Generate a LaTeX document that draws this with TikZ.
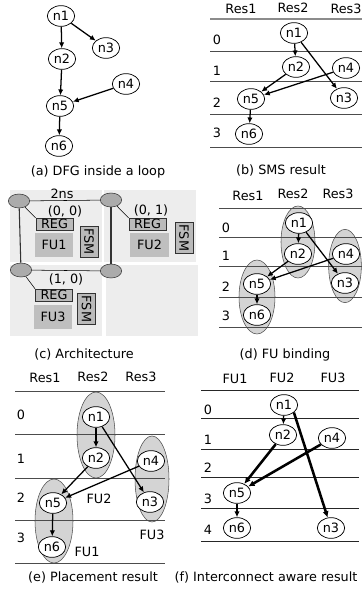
\documentclass[tikz,border=0pt]{standalone}
\usepackage{fontspec}
\setmainfont{DejaVu Sans}
\usepackage{xcolor}
\usepackage{tikz}
\usetikzlibrary{arrows.meta,shapes.geometric}

\begin{document}
\begin{tikzpicture}[
    x=0.75pt, y=-0.75pt,
    font=\fontsize{9.6}{11}\selectfont,
    opnode/.style={draw, ellipse, fill=white, inner sep=0pt, minimum width=20.5pt, minimum height=15.5pt, line width=0.55pt},
    fugroup/.style={draw=black!70, ellipse, fill=black!17, inner sep=0pt},
    pe/.style={draw=black!80, ellipse, fill=black!33, inner sep=0pt, minimum width=16pt, minimum height=10.5pt},
    regbox/.style={draw=black!80, fill=black!27, inner sep=0pt, minimum width=28pt, minimum height=8.8pt, text height=6.6pt, text depth=0pt},
    fubox/.style={fill=black!25, inner sep=0pt, minimum width=29pt, minimum height=18pt},
    fsmbox/.style={draw=black!80, fill=black!27, inner sep=0pt, minimum width=13.5pt, minimum height=23pt},
    panel/.style={fill=black!7},
    arr/.style={-{Latex[length=4.4pt,width=4pt]}, line width=0.95pt},
    wire/.style={-{Latex[length=4.8pt,width=4.6pt]}, line width=1.9pt},
    grid/.style={draw=black!70, line width=0.5pt},
  ]
  \useasboundingbox (0,0) rectangle (362,589);

  % Panels of the architecture
  \fill[panel] (10,190) rectangle (102,262);
  \fill[panel] (104,190) rectangle (196,262);
  \fill[panel] (10,265) rectangle (102,336);
  \fill[panel] (106,265) rectangle (198,336);

  % FU groups in (d) and (e), under the grid lines
  \node[fugroup, minimum width=25.5pt, minimum height=54pt]   (dg2) at (298,242) {};
  \node[fugroup, minimum width=24.5pt, minimum height=55pt]   (dg3) at (345,266) {};
  \node[fugroup, minimum width=27pt, minimum height=55.5pt]   (dg1) at (257,297) {};
  \node[fugroup, minimum width=28.5pt, minimum height=64.5pt] (eg2) at (96,435) {};
  \node[fugroup, minimum width=25.5pt, minimum height=64.5pt] (eg3) at (152,479) {};
  \node[fugroup, minimum width=28.5pt, minimum height=63pt]   (eg1) at (54,521) {};

  % Grid lines
  \draw[black!45, line width=1.2pt] (210,19) -- (362,19);
  \foreach \y in {51,81,114,147} \draw[grid] (210,\y) -- (362,\y);
  \foreach \y in {208,237,266,297,327} \draw[grid] (219,\y) -- (362,\y);
  \foreach \y in {391,434,478,520,563} \draw[grid] (15,\y) -- (165,\y);
  \foreach \y in {390,418,449,477,508,541} \draw[black!85, line width=0.6pt] (201,\y) -- (359,\y);

  % Column headers and row numbers
  \foreach \id/\lab/\x/\y in {bc1/Res1/241/9, bc2/Res2/293/8, bc3/Res3/346/9,
      dc1/Res1/248/196, dc2/Res2/293/194, dc3/Res3/338/194,
      ec1/Res1/45/378, ec2/Res2/93/377, ec3/Res3/141/377,
      fc1/FU1/235/379, fc2/FU2/282/378, fc3/FU3/333/378,
      br0/0/217/40, br1/1/217/71, br2/2/217/103, br3/3/217/133,
      dr0/0/226/228, dr1/1/226/256, dr2/2/226/287, dr3/3/226/316,
      er0/0/21/415, er1/1/21/459, er2/2/21/498, er3/3/21/538,
      fr0/0/208/410, fr1/1/208/440, fr2/2/208/468, fr3/3/208/499, fr4/4/208/530}
    \node[inner sep=0pt] (\id) at (\x,\y) {\lab};

  % Operation nodes
  \foreach \id/\lab/\x/\y in {a1/n1/61/16, a2/n2/62/59, a3/n3/106/48, a4/n4/126/84, a5/n5/60/106, a6/n6/59/146,
      b1/n1/294/33, b2/n2/296/67, b3/n3/344/98, b4/n4/346/68, b5/n5/251/99, b6/n6/249/134,
      d1/n1/299/223, d2/n2/298/254, d3/n3/345/283, d4/n4/346/254, d5/n5/257/284, d6/n6/257/315,
      e1/n1/96/417, e2/n2/96/458, e3/n3/150/502, e4/n4/151/461, e5/n5/53/503, e6/n6/52/547,
      f1/n1/284/405, f2/n2/283/435, f3/n3/331/528, f4/n4/332/438, f5/n5/237/493, f6/n6/237/528}
    \node[opnode] (\id) at (\x,\y) {\lab};

  % Dependence edges
  \foreach \s/\t in {a1/a2, a1/a3, a2/a5, a4/a5, a5/a6,
      b1/b2, b1/b3, b2/b5, b4/b5, b5/b6,
      d1/d2, d1/d3, d2/d5, d4/d5, d5/d6,
      e1/e2, e1/e3, e2/e5, e4/e5, e5/e6,
      f1/f2, f5/f6}
    \draw[arr] (\s) -- (\t);
  \draw[wire] (f1.south east) -- (f3);
  \foreach \s/\t in {f2/f5, f4/f5}
    \draw[wire] (\s) -- (\t);

  % Architecture
  \node[pe] (pe1) at (19,201) {};
  \node[pe] (pe2) at (111,200) {};
  \node[pe] (pe3) at (21,270) {};
  \node[pe] (pe4) at (111,271) {};
  \node[regbox] (reg1) at (54.5,224) {REG};
  \node[regbox] (reg2) at (147.5,224) {REG};
  \node[regbox] (reg3) at (54,295) {REG};
  \node[fubox] (fu1) at (54,245) {FU1};
  \node[fubox] (fu2) at (149.5,245) {FU2};
  \node[fubox] (fu3) at (53,316.5) {FU3};
  \node[fsmbox] (fsm1) at (89,241.5) {\rotatebox{-90}{FSM}};
  \node[fsmbox] (fsm2) at (184,238) {\rotatebox{-90}{FSM}};
  \node[fsmbox] (fsm3) at (86.5,309) {\rotatebox{-90}{FSM}};
  \draw (pe1) -- (pe2);
  \draw (pe3) -- (pe4);
  \draw[line width=0.8pt, black!80] (pe1) -- (pe3);
  \draw[line width=0.8pt, black!80] (pe2) -- (pe4);
  \draw (pe1) -- (reg1.north west);
  \draw (pe2) -- (reg2.north west);
  \draw (pe3) -- (reg3.north west);
  \node[inner sep=0pt] (delay) at (62,194) {2ns};
  \node[inner sep=0pt] (xy1) at (65,211) {(0, 0)};
  \node[inner sep=0pt] (xy2) at (151,210) {(0, 1)};
  \node[inner sep=0pt] (xy3) at (66,279) {(1, 0)};

  % FU names in (e)
  \node[inner sep=0pt] (fn2) at (99,499) {FU2};
  \node[inner sep=0pt] (fn3) at (152,535) {FU3};
  \node[inner sep=0pt] (fn1) at (87,552) {FU1};

  % Captions
  \node[inner sep=0pt] (capa) at (98,172) {(a) DFG inside a loop};
  \node[inner sep=0pt] (capb) at (281,170) {(b) SMS result};
  \node[inner sep=0pt] (capc) at (84,354) {(c) Architecture};
  \node[inner sep=0pt] (capd) at (285,355) {(d) FU binding};
  \node[inner sep=0pt] (cape) at (93,577) {(e) Placement result};
  \node[inner sep=0pt] (capf) at (266,577) {(f) Interconnect aware result};
\end{tikzpicture}
\end{document}
